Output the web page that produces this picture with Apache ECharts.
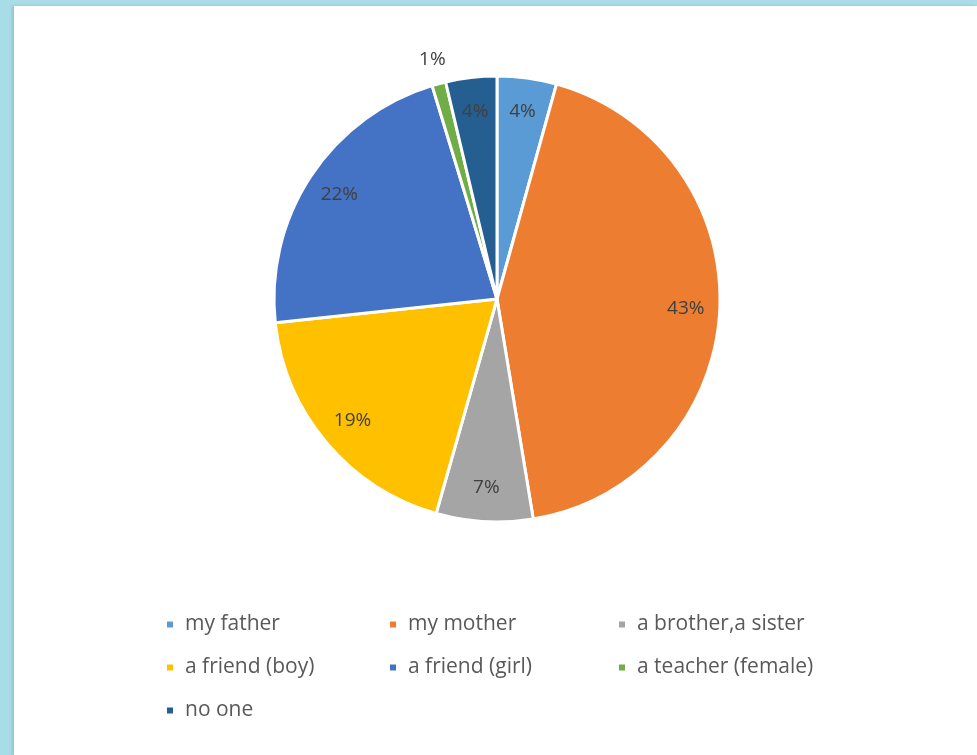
<!DOCTYPE html>
<html>
<head>
<meta charset="utf-8">
<script src="https://cdn.jsdelivr.net/npm/echarts@6/dist/echarts.min.js"></script>
<style>
  html, body { margin: 0; padding: 0; width: 977px; height: 755px; overflow: hidden; background: #a8dce7; }
  #panel { position: absolute; left: 14px; top: 6px; right: 0; bottom: 0; background: #fff; box-shadow: -2px 0 3px rgba(0,0,0,0.12); }
  #chart { position: absolute; left: 0; top: 0; width: 977px; height: 755px; }
</style>
</head>
<body>
<div id="panel"></div>
<div id="chart"></div>
<script>
const categories = ['my father', 'my mother', 'a brother,a sister', 'a friend (boy)', 'a friend (girl)', 'a teacher (female)', 'no one'];
// shares (labels show them rounded)
const shares = [4.3, 43.1, 7.0, 18.9, 22.0, 1.0, 3.7];
const colors = ['#5b9bd5', '#ed7d31', '#a5a5a5', '#ffc000', '#4472c4', '#70ad47', '#255e91'];
// label drawn outside the slice (too thin)
const outsideLabel = ['a teacher (female)'];

const chart = echarts.init(document.getElementById('chart'));
const font = '"Open Sans", Lato, sans-serif';
const center = [497, 299];

const sliceData = categories.map(function (c, i) {
  return { name: c, value: shares[i], itemStyle: { color: colors[i] } };
});
const ghost = function (showOutside) {
  return categories.map(function (c, i) {
    const isOut = outsideLabel.indexOf(c) >= 0;
    return { name: c, value: shares[i], label: { show: showOutside ? isOut : !isOut } };
  });
};
const labelStyle = {
  position: 'inside', color: '#404040', fontFamily: font, fontSize: 19,
  formatter: function (p) { return Math.round(p.value) + '%'; }
};

const legendBase = {
  orient: 'vertical', top: 607, itemWidth: 8, itemHeight: 8, itemGap: 18, icon: 'rect',
  selectedMode: false,
  textStyle: { color: '#595959', fontFamily: font, fontSize: 21, lineHeight: 25, padding: [0, 0, 0, 6] }
};

const option = {
  animation: false,
  legend: [
    Object.assign({}, legendBase, { left: 160, data: [categories[0], categories[3], categories[6]] }),
    Object.assign({}, legendBase, { left: 383, data: [categories[1], categories[4]] }),
    Object.assign({}, legendBase, { left: 612, data: [categories[2], categories[5]] })
  ],
  series: [
    {
      type: 'pie', center: center, radius: [0, 223], startAngle: 90, clockwise: true,
      data: sliceData, label: { show: false }, labelLine: { show: false },
      itemStyle: { borderColor: '#fff', borderWidth: 3 }, emphasis: { disabled: true }
    },
    {
      type: 'pie', center: center, radius: [150, 222], startAngle: 90, clockwise: true, silent: true,
      data: ghost(false), itemStyle: { color: 'rgba(0,0,0,0)' }, label: labelStyle, labelLine: { show: false },
      legendHoverLink: false, emphasis: { disabled: true }
    },
    {
      type: 'pie', center: center, radius: [226, 264], startAngle: 90, clockwise: true, silent: true,
      data: ghost(true), itemStyle: { color: 'rgba(0,0,0,0)' }, label: labelStyle, labelLine: { show: false },
      legendHoverLink: false, emphasis: { disabled: true }
    }
  ]
};
chart.setOption(option);
</script>
</body>
</html>
